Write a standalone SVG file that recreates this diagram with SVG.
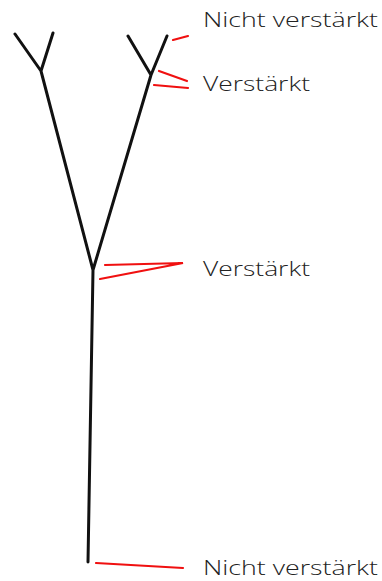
<svg xmlns="http://www.w3.org/2000/svg" width="382" height="581" viewBox="0 0 382 581">
<style>
.tree{stroke:#111;stroke-width:3;fill:none;stroke-linecap:round;stroke-linejoin:round}
.lead{stroke:#f01010;stroke-width:2.2;fill:none;stroke-linecap:round}
.lbl{font-family:"Open Sans","Liberation Sans",sans-serif;font-size:21px;font-weight:300;fill:#222}
</style>
<rect width="382" height="581" fill="#fff"/>
<g id="tree">
<path class="tree" d="M15,34 L41,71 L53,33 M41,71 L93,270 M128,36 L151,75 L167,36 M151,75 L93,270 L88,562"/>
</g>
<g id="connectors">
<path class="lead" d="M173,40 L188,36"/>
<path class="lead" d="M159,71 L187,81"/>
<path class="lead" d="M154,85 L188,88"/>
<path class="lead" d="M105,265 L183,263 L100,279"/>
<path class="lead" d="M96,563 L183,568"/>
</g>
<g id="label1"><text class="lbl" x="203" y="27" textLength="175" lengthAdjust="spacingAndGlyphs">Nicht verstärkt</text></g>
<g id="label2"><text class="lbl" x="203" y="91" textLength="107" lengthAdjust="spacingAndGlyphs">Verstärkt</text></g>
<g id="label3"><text class="lbl" x="203" y="276" textLength="107" lengthAdjust="spacingAndGlyphs">Verstärkt</text></g>
<g id="label4"><text class="lbl" x="203" y="575" textLength="175" lengthAdjust="spacingAndGlyphs">Nicht verstärkt</text></g>
</svg>
